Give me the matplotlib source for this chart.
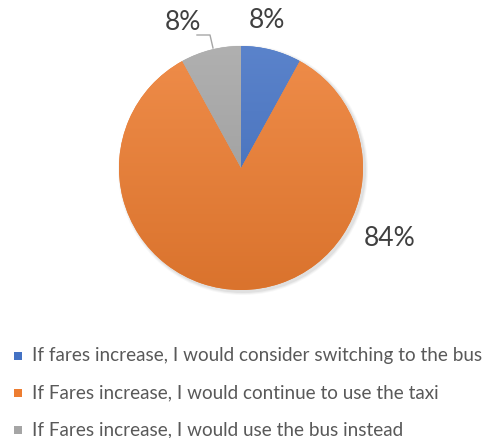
import numpy as np
import matplotlib
matplotlib.use("Agg")
import matplotlib.pyplot as plt
from matplotlib.colors import to_rgb
from matplotlib.patches import Rectangle

labels = [
    "If fares increase, I would consider switching to the bus",
    "If Fares increase, I would continue to use the taxi",
    "If Fares increase, I would use the bus instead",
]
values = [8, 84, 8]
pct_labels = ["8%", "84%", "8%"]
colors = ["#4472C4", "#ED7D31", "#A5A5A5"]

plt.rcParams["font.family"] = ["Lato", "DejaVu Sans"]

W, H = 482, 438
fig = plt.figure(figsize=(W / 100, H / 100), dpi=100)
ax = fig.add_axes([0, 0, 1, 1])

cx, cy, r = 241, H - 168, 122

# soft shadow
for i, a in enumerate([0.05, 0.04, 0.03]):
    sh = plt.Circle((cx + 2, cy - 2), r + 1 + i, color="black", alpha=a, lw=0)
    ax.add_patch(sh)

wedges, _ = ax.pie(values, colors=colors, startangle=90, counterclock=False,
                   center=(cx, cy), radius=r, frame=True,
                   wedgeprops=dict(linewidth=0))

# vertical gradient on each wedge (lighter at top)
yy = np.linspace(0, 1, 256)[:, None]
for w, c in zip(wedges, colors):
    base = np.array(to_rgb(c))
    light = base + (1 - base) * 0.12
    dark = base * 0.92
    img = (light[None, None, :] * (1 - yy[..., None]) + dark[None, None, :] * yy[..., None])
    img = np.repeat(img, 2, axis=1)
    im = ax.imshow(img, extent=(cx - r, cx + r, cy - r, cy + r), origin="upper",
                   aspect="auto", zorder=2)
    im.set_clip_path(w)

ax.set_xlim(0, W)
ax.set_ylim(0, H)
ax.axis("off")

txt_kw = dict(fontsize=19, color="#404040", ha="center", va="center")
ax.text(267, H - 21, pct_labels[0], **txt_kw)
ax.text(390, H - 238, pct_labels[1], **txt_kw)
ax.text(183, H - 22, pct_labels[2], **txt_kw)
ax.plot([197, 210, 213], [H - 35, H - 35, H - 48], color="#A6A6A6", lw=1, zorder=3)

# legend
rows_y = [356, 393, 430]
for lab, c, y in zip(labels, colors, rows_y):
    ax.add_patch(Rectangle((14, H - y - 4), 8, 8, color=c, lw=0))
    ax.text(32, H - y, lab, fontsize=13.6, color="#595959", ha="left", va="center")

fig.savefig("out.png", dpi=100)
